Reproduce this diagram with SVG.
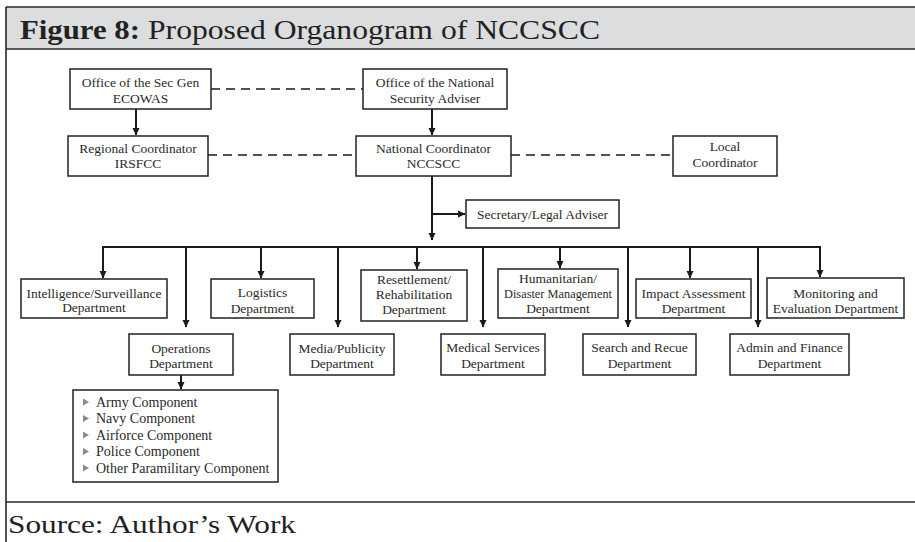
<svg xmlns="http://www.w3.org/2000/svg" width="915" height="542" viewBox="0 0 915 542">
  <style>
    .frame { stroke: #2a2a2a; stroke-width: 1.6; fill: none; }
    .box { fill: #ffffff; stroke: #222222; stroke-width: 1.5; }
    .lbl { font-family: "Liberation Serif", "Times New Roman", serif; font-size: 13.5px; fill: #2a2a2a; text-anchor: middle; }
    .item { font-family: "Liberation Serif", "Times New Roman", serif; font-size: 14px; fill: #2a2a2a; }
    .link { stroke: #1a1a1a; stroke-width: 2; fill: none; }
    .dash { stroke: #1a1a1a; stroke-width: 1.6; fill: none; stroke-dasharray: 9 6; }
    .bullet { fill: #8a8a8a; }
  </style>
  <defs>
    <marker id="arrow" markerWidth="8" markerHeight="8" refX="7" refY="4" orient="auto" markerUnits="userSpaceOnUse">
      <path d="M0,0.5 L7.5,4 L0,7.5 Z" fill="#1a1a1a"/>
    </marker>
  </defs>

  <rect width="915" height="542" fill="#ffffff"/>

  <!-- page frame and header band -->
  <rect x="6" y="7" width="915" height="42" fill="#dcdddf"/>
  <path class="frame" d="M6,7 H915 M6,7 V542 M6,49 H915 M6,502 H915"/>
  <text x="20" y="39" font-family="Liberation Serif, 'Times New Roman', serif" font-size="28" fill="#222">
    <tspan font-weight="bold" textLength="120" lengthAdjust="spacingAndGlyphs">Figure 8:</tspan>
    <tspan x="148" textLength="452" lengthAdjust="spacingAndGlyphs">Proposed Organogram of NCCSCC</tspan>
  </text>
  <text x="8" y="533" font-family="Liberation Serif, 'Times New Roman', serif" font-size="26" fill="#222" textLength="288" lengthAdjust="spacingAndGlyphs">Source: Author’s Work</text>

  <!-- connectors -->
  <g id="connectors">
    <line class="dash" x1="211" y1="89" x2="363" y2="89"/>
    <line class="dash" x1="208" y1="155" x2="356" y2="155"/>
    <line class="dash" x1="511" y1="155" x2="673" y2="155"/>
    <line class="link" x1="136" y1="109" x2="136" y2="135" marker-end="url(#arrow)"/>
    <line class="link" x1="432" y1="109" x2="432" y2="135" marker-end="url(#arrow)"/>
    <line class="link" x1="432" y1="176" x2="432" y2="240" marker-end="url(#arrow)"/>
    <line class="link" x1="432" y1="214" x2="465" y2="214" marker-end="url(#arrow)"/>
    <line class="link" x1="102" y1="247" x2="821" y2="247"/>
    <line class="link" x1="103" y1="247" x2="103" y2="278" marker-end="url(#arrow)"/>
    <line class="link" x1="186" y1="247" x2="186" y2="327" marker-end="url(#arrow)"/>
    <line class="link" x1="261" y1="247" x2="261" y2="278" marker-end="url(#arrow)"/>
    <line class="link" x1="338" y1="247" x2="338" y2="327" marker-end="url(#arrow)"/>
    <line class="link" x1="417" y1="247" x2="417" y2="269" marker-end="url(#arrow)"/>
    <line class="link" x1="483" y1="247" x2="483" y2="327" marker-end="url(#arrow)"/>
    <line class="link" x1="560" y1="247" x2="560" y2="268" marker-end="url(#arrow)"/>
    <line class="link" x1="628" y1="247" x2="628" y2="327" marker-end="url(#arrow)"/>
    <line class="link" x1="690" y1="247" x2="690" y2="278" marker-end="url(#arrow)"/>
    <line class="link" x1="758" y1="247" x2="758" y2="327" marker-end="url(#arrow)"/>
    <line class="link" x1="820" y1="247" x2="820" y2="277" marker-end="url(#arrow)"/>
    <line class="link" x1="181" y1="375" x2="181" y2="389" marker-end="url(#arrow)"/>
  </g>

  <!-- nodes -->
  <g id="sec-gen-ecowas">
    <rect class="box" x="70" y="69" width="141" height="40"/>
    <text class="lbl" x="140.5" y="87">Office of the Sec Gen</text>
    <text class="lbl" x="140.5" y="103">ECOWAS</text>
  </g>
  <g id="nsa">
    <rect class="box" x="363" y="69" width="144" height="40"/>
    <text class="lbl" x="435" y="87">Office of the National</text>
    <text class="lbl" x="435" y="103">Security Adviser</text>
  </g>
  <g id="regional-coordinator">
    <rect class="box" x="68" y="136" width="140" height="40"/>
    <text class="lbl" x="138" y="153">Regional Coordinator</text>
    <text class="lbl" x="138" y="168">IRSFCC</text>
  </g>
  <g id="national-coordinator">
    <rect class="box" x="356" y="136" width="155" height="40"/>
    <text class="lbl" x="433.5" y="153">National Coordinator</text>
    <text class="lbl" x="433.5" y="168">NCCSCC</text>
  </g>
  <g id="local-coordinator">
    <rect class="box" x="673" y="136" width="104" height="40"/>
    <text class="lbl" x="725" y="151">Local</text>
    <text class="lbl" x="725" y="167">Coordinator</text>
  </g>
  <g id="secretary">
    <rect class="box" x="466" y="200" width="153" height="28"/>
    <text class="lbl" x="542.5" y="219">Secretary/Legal Adviser</text>
  </g>
  <g id="intelligence">
    <rect class="box" x="21" y="279" width="146" height="39"/>
    <text class="lbl" x="94" y="298">Intelligence/Surveillance</text>
    <text class="lbl" x="94" y="312">Department</text>
  </g>
  <g id="logistics">
    <rect class="box" x="211" y="279" width="103" height="39"/>
    <text class="lbl" x="262.5" y="297">Logistics</text>
    <text class="lbl" x="262.5" y="313">Department</text>
  </g>
  <g id="resettlement">
    <rect class="box" x="361" y="270" width="106" height="51"/>
    <text class="lbl" x="414" y="284">Resettlement/</text>
    <text class="lbl" x="414" y="299">Rehabilitation</text>
    <text class="lbl" x="414" y="314">Department</text>
  </g>
  <g id="humanitarian">
    <rect class="box" x="498" y="269" width="120" height="49"/>
    <text class="lbl" x="558" y="283" font-size="12.5">Humanitarian/</text>
    <text class="lbl" x="558" y="298" font-size="12.5" textLength="108" lengthAdjust="spacingAndGlyphs">Disaster Management</text>
    <text class="lbl" x="558" y="313" font-size="12.5">Department</text>
  </g>
  <g id="impact-assessment">
    <rect class="box" x="636" y="279" width="115" height="39"/>
    <text class="lbl" x="693.5" y="298">Impact Assessment</text>
    <text class="lbl" x="693.5" y="313">Department</text>
  </g>
  <g id="monitoring">
    <rect class="box" x="767" y="278" width="137" height="40"/>
    <text class="lbl" x="835.5" y="298">Monitoring and</text>
    <text class="lbl" x="835.5" y="313">Evaluation Department</text>
  </g>
  <g id="operations">
    <rect class="box" x="129" y="334" width="104" height="41"/>
    <text class="lbl" x="181" y="353">Operations</text>
    <text class="lbl" x="181" y="368">Department</text>
  </g>
  <g id="media">
    <rect class="box" x="290" y="334" width="104" height="41"/>
    <text class="lbl" x="342" y="353">Media/Publicity</text>
    <text class="lbl" x="342" y="368">Department</text>
  </g>
  <g id="medical">
    <rect class="box" x="441" y="334" width="104" height="41"/>
    <text class="lbl" x="493" y="352">Medical Services</text>
    <text class="lbl" x="493" y="368">Department</text>
  </g>
  <g id="search-rescue">
    <rect class="box" x="583" y="334" width="113" height="41"/>
    <text class="lbl" x="639.5" y="352">Search and Recue</text>
    <text class="lbl" x="639.5" y="368">Department</text>
  </g>
  <g id="admin-finance">
    <rect class="box" x="730" y="334" width="119" height="41"/>
    <text class="lbl" x="789.5" y="352">Admin and Finance</text>
    <text class="lbl" x="789.5" y="368">Department</text>
  </g>
  <g id="components">
    <rect class="box" x="73" y="390" width="205" height="92"/>
    <path class="bullet" d="M83,398.5 L89,402 L83,405.5 Z"/>
    <path class="bullet" d="M83,415 L89,418.5 L83,422 Z"/>
    <path class="bullet" d="M83,431.5 L89,435 L83,438.5 Z"/>
    <path class="bullet" d="M83,448 L89,451.5 L83,455 Z"/>
    <path class="bullet" d="M83,464.5 L89,468 L83,471.5 Z"/>
    <text class="item" x="96" y="407">Army Component</text>
    <text class="item" x="96" y="423">Navy Component</text>
    <text class="item" x="96" y="440">Airforce Component</text>
    <text class="item" x="96" y="456">Police Component</text>
    <text class="item" x="96" y="473">Other Paramilitary Component</text>
  </g>
</svg>
